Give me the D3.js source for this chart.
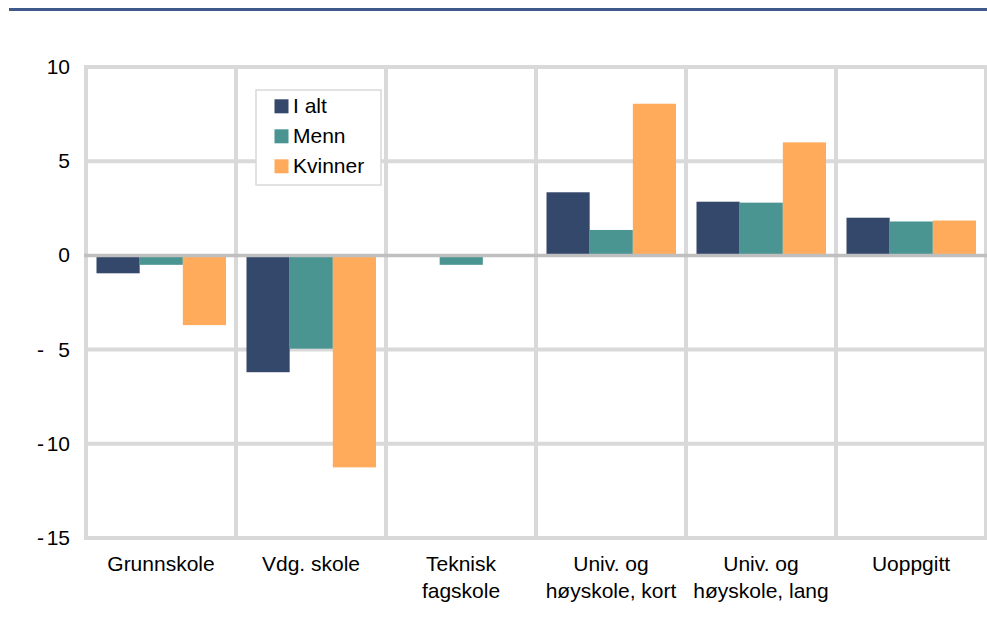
<!DOCTYPE html>
<html>
<head>
<meta charset="utf-8">
<script src="https://cdn.jsdelivr.net/npm/d3@7"></script>
<style>
  body { margin: 0; background: #fff; }
  svg { display: block; font-family: "Liberation Sans", Arial, sans-serif; }
</style>
</head>
<body>
<svg width="987" height="618"></svg>
<script>
// categories (line breaks as in the chart)
const categories = [
  ["Grunnskole"],
  ["Vdg. skole"],
  ["Teknisk", "fagskole"],
  ["Univ. og", "høyskole, kort"],
  ["Univ. og", "høyskole, lang"],
  ["Uoppgitt"]
];
const seriesNames = ["I alt", "Menn", "Kvinner"];
const iAlt    = [-0.95, -6.2, 0, 3.35, 2.85, 2.0];
const menn    = [-0.5, -4.95, -0.5, 1.35, 2.8, 1.8];
const kvinner = [-3.7, -11.25, 0, 8.05, 6.0, 1.85];
const yTicks = [10, 5, 0, -5, -10, -15];

const colors = ["#34486b", "#4a9591", "#ffab5b"];
const series = [iAlt, menn, kvinner];

const svg = d3.select("svg");
const plotLeft = 86, plotRight = 986, plotTop = 67, plotBottom = 538;
const fontSize = 21;

// top rule
svg.append("rect")
  .attr("x", 9).attr("y", 8).attr("width", 978).attr("height", 3)
  .attr("fill", "#3f5a8a");

const x0 = d3.scaleBand()
  .domain(d3.range(categories.length))
  .range([plotLeft, plotRight])
  .padding(0);
const x1 = d3.scaleBand()
  .domain(d3.range(seriesNames.length))
  .range([10.5, x0.bandwidth() - 10])
  .padding(0);
const y = d3.scaleLinear().domain([-15, 10]).range([plotBottom, plotTop]);

// horizontal gridlines
svg.append("g").selectAll("line")
  .data(yTicks.filter(d => d !== 0))
  .join("line")
  .attr("x1", plotLeft - 2).attr("x2", plotRight + 2)
  .attr("y1", d => y(d)).attr("y2", d => y(d))
  .attr("stroke", "#d9d9d9").attr("stroke-width", 4);

// vertical gridlines at category boundaries
svg.append("g").selectAll("line")
  .data(d3.range(categories.length + 1))
  .join("line")
  .attr("x1", i => plotLeft + i * x0.bandwidth())
  .attr("x2", i => plotLeft + i * x0.bandwidth())
  .attr("y1", plotTop - 2).attr("y2", plotBottom + 2)
  .attr("stroke", "#d9d9d9").attr("stroke-width", 4);

// bars
const groups = svg.append("g").selectAll("g")
  .data(categories.map((c, i) => i))
  .join("g")
  .attr("transform", i => `translate(${x0(i)},0)`);

groups.selectAll("rect")
  .data(i => series.map((s, k) => ({ k: k, v: s[i] })))
  .join("rect")
  .attr("x", d => x1(d.k))
  .attr("width", x1.bandwidth())
  .attr("y", d => y(Math.max(0, d.v)))
  .attr("height", d => Math.abs(y(d.v) - y(0)))
  .attr("fill", d => colors[d.k]);

// zero line
svg.append("line")
  .attr("x1", plotLeft - 2).attr("x2", plotRight + 2)
  .attr("y1", y(0)).attr("y2", y(0))
  .attr("stroke", "#bfbfbf").attr("stroke-width", 3.5);

// y tick labels (negatives get a detached "-" like the Excel format)
const yLab = svg.append("g").attr("font-size", fontSize).attr("fill", "#000");
yTicks.forEach(t => {
  yLab.append("text")
    .attr("x", 70).attr("y", y(t) + 7)
    .attr("text-anchor", "end")
    .text(Math.abs(t));
  if (t < 0) {
    yLab.append("text")
      .attr("x", 37).attr("y", y(t) + 7)
      .text("-");
  }
});

// x labels
const xLab = svg.append("g").attr("font-size", fontSize).attr("fill", "#000");
categories.forEach((lines, i) => {
  const t = xLab.append("text")
    .attr("x", x0(i) + x0.bandwidth() / 2)
    .attr("y", 571)
    .attr("text-anchor", "middle");
  lines.forEach((l, j) => {
    t.append("tspan")
      .attr("x", x0(i) + x0.bandwidth() / 2)
      .attr("dy", j === 0 ? 0 : 27)
      .text(l);
  });
});

// legend
const legend = svg.append("g").attr("transform", "translate(256,90)");
legend.append("rect")
  .attr("width", 125).attr("height", 95)
  .attr("fill", "#fff").attr("stroke", "#d9d9d9").attr("stroke-width", 1.5);
seriesNames.forEach((name, k) => {
  const row = legend.append("g").attr("transform", `translate(0,${9.3 + k * 30})`);
  row.append("rect")
    .attr("x", 18.5).attr("y", 0).attr("width", 14).attr("height", 14)
    .attr("fill", colors[k]);
  row.append("text")
    .attr("x", 37).attr("y", 14)
    .attr("font-size", fontSize)
    .text(name);
});
</script>
</body>
</html>
